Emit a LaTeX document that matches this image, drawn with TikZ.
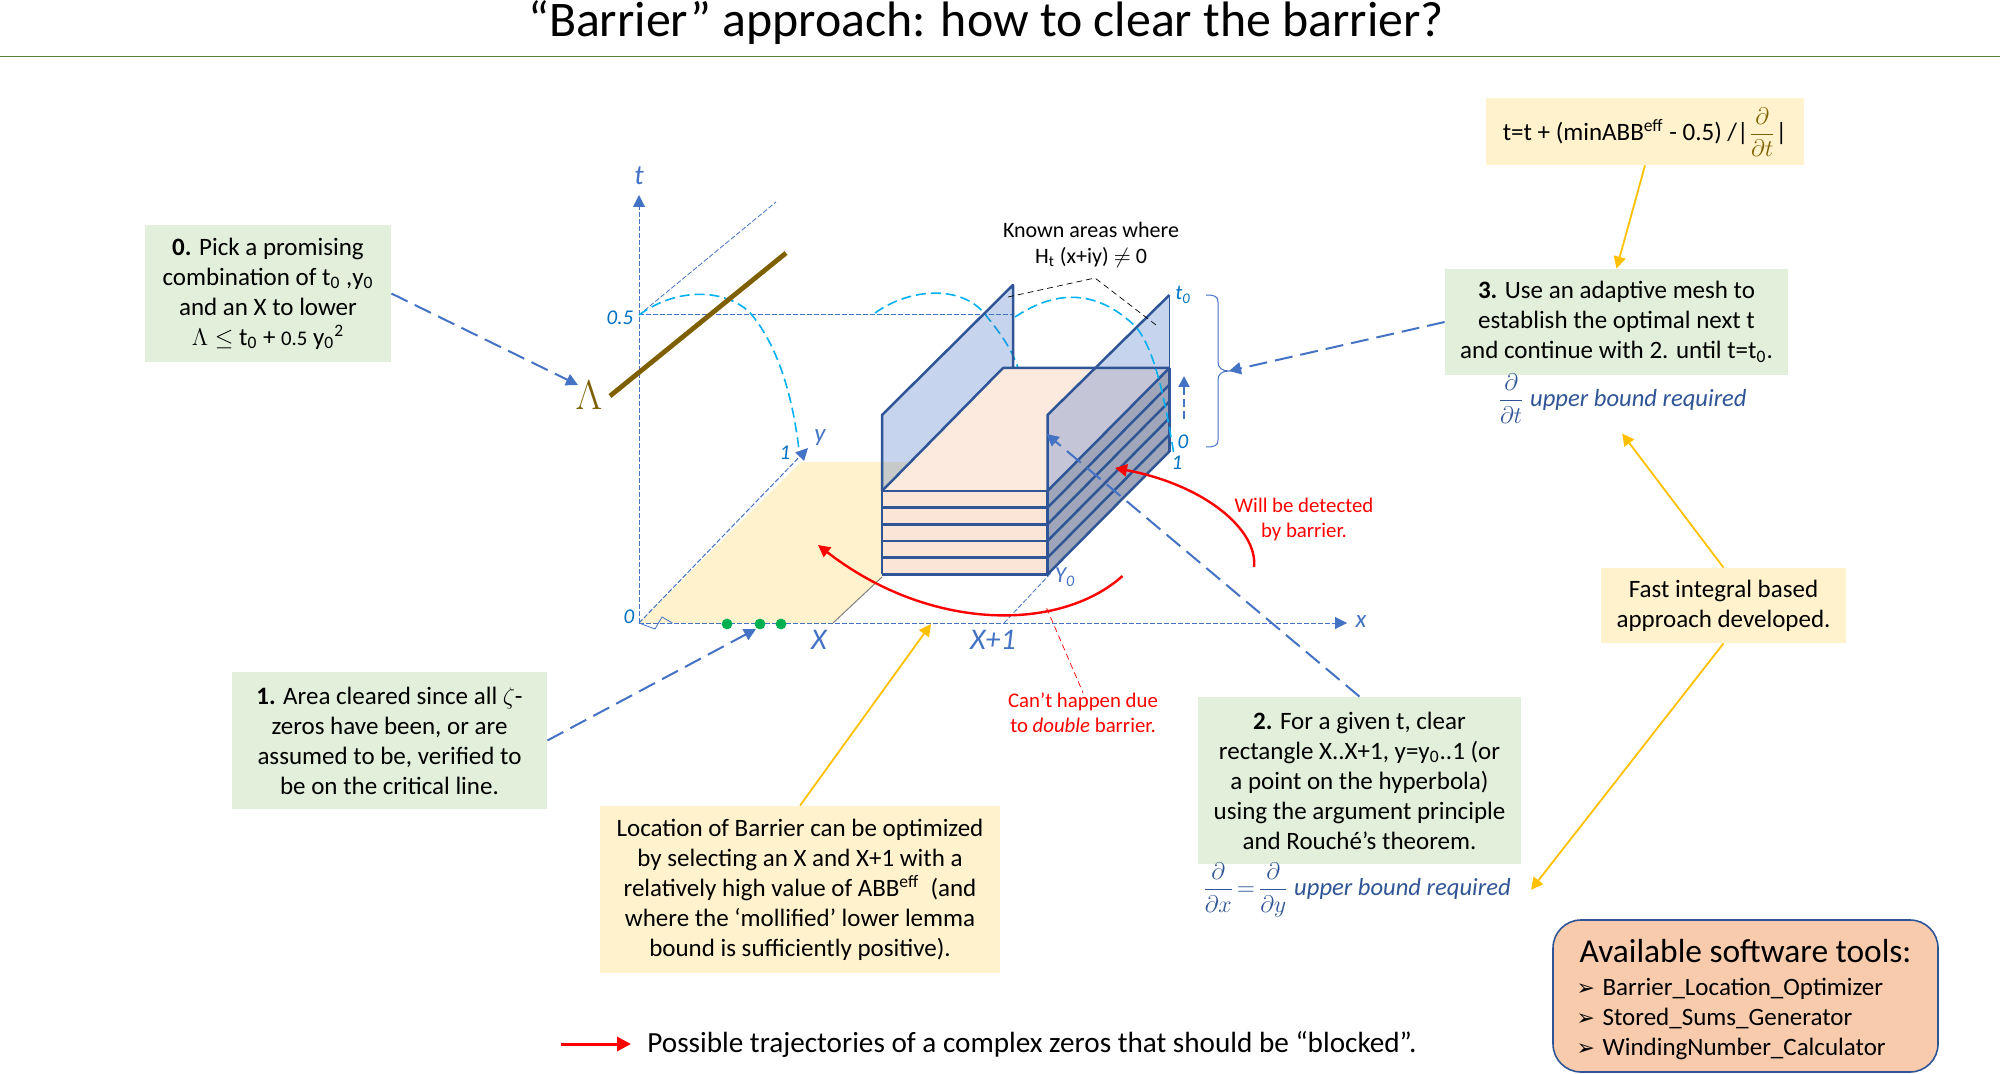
\documentclass[tikz,border=0pt]{standalone}
\usepackage{fontspec}
\setmainfont{Carlito}
\newfontfamily\dejavu{DejaVu Sans}
\usetikzlibrary{arrows.meta,positioning}
\definecolor{boxgreen}{HTML}{E2EFDA}
\definecolor{boxyellow}{HTML}{FFF2CC}
\definecolor{boxpeach}{HTML}{F8CBAD}
\definecolor{facepeach}{HTML}{FBE5D6}
\definecolor{sidegray}{HTML}{A0A6BA}
\definecolor{darkblue}{HTML}{2F5597}
\definecolor{midblue}{HTML}{4472C4}
\definecolor{numblue}{HTML}{0070C0}
\definecolor{cyanline}{HTML}{00B0F0}
\definecolor{gold}{HTML}{FFC000}
\definecolor{brownline}{HTML}{7F6000}
\definecolor{titlegreen}{HTML}{548235}
\definecolor{dotgreen}{HTML}{00B050}
\newcommand{\bodyfont}{\fontsize{12.5}{15}\selectfont}
\newcommand{\smallfont}{\fontsize{10.4}{12.5}\selectfont}
\newcommand{\toolmark}{\hspace*{-1.5pt}\makebox[13pt][l]{\dejavu\fontsize{11}{15}\selectfont ➢}}
\tikzstyle{greenbox} = [fill=boxgreen, align=center, inner sep=0pt, font=\bodyfont]
\tikzstyle{yellowbox} = [fill=boxyellow, align=center, inner sep=0pt, font=\bodyfont]
\tikzstyle{axislabel} = [text=numblue, inner sep=0pt, font=\fontsize{10.5}{12}\itshape]
\tikzstyle{biglabel} = [text=midblue, inner sep=0pt, font=\fontsize{15}{18}\itshape]
\tikzstyle{redtext} = [text=red, align=center, inner sep=0pt, font=\smallfont]
\tikzstyle{boundtext} = [text=darkblue, inner sep=5pt, font=\fontsize{12.3}{14}\itshape]
\tikzstyle{axisline} = [midblue, dash pattern=on 2.5pt off 1pt, line width=0.5pt]
\tikzstyle{axisarrow} = [axisline, -{Triangle[length=6pt,width=6pt]}]
\tikzstyle{callout} = [midblue, line width=1pt, dash pattern=on 9pt off 4pt, -{Triangle[length=6pt,width=6pt]}]
\tikzstyle{goldarrow} = [gold, line width=0.9pt, -{Triangle[length=6pt,width=6pt]}]
\tikzstyle{redarrow} = [red, line width=1.2pt, -{Triangle[length=6pt,width=6pt]}]
\tikzstyle{cyandash} = [cyanline, line width=0.8pt, dash pattern=on 5pt off 2.5pt]
\tikzstyle{edgeline} = [darkblue, line width=1.25pt, line join=round]
\tikzstyle{panel} = [midblue, fill opacity=0.3]
\begin{document}
\begin{tikzpicture}[x=0.5pt,y=-0.5pt]
\useasboundingbox (0,0) rectangle (2000,1074);
\node [anchor=base, inner sep=0pt] (title) at (986,37) {\fontsize{24.9}{28}\selectfont “Barrier” approach: how to clear the barrier?};
\coordinate (ruleleft) at (0,56.5);
\coordinate (ruleright) at (2000,56.5);
\draw [titlegreen, line width=0.6pt] (ruleleft) -- (ruleright);

\coordinate (origin) at (639,623);
\coordinate (ttop) at (639,195);
\coordinate (xtip) at (1347,623);
\coordinate (ytip) at (808,448);
\coordinate (half) at (639,315);
\coordinate (halfend) at (1013,315);
\coordinate (halfup) at (776,202);
\coordinate (xbase) at (833,623);
\coordinate (xtop) at (882,577);
\coordinate (xonebase) at (1004,623);
\coordinate (xonetop) at (1051,573);

\coordinate (fl) at (882,491);
\coordinate (fr) at (1047.5,491);
\coordinate (bl) at (1003,368);
\coordinate (br) at (1169.4,368);
\coordinate (flup) at (882,415);
\coordinate (frup) at (1047.5,415);
\coordinate (blup) at (1013,285);
\coordinate (blfoot) at (1013,368);
\coordinate (brup) at (1169.4,295);

\fill [boxyellow] (origin) -- (801,462) -- (908,462) -- (fl) -- (xtop) -- (xbase) -- cycle;
\draw [axisarrow] (origin) -- (ttop);
\draw [axisarrow] (origin) -- (xtip);
\draw [axisarrow] (origin) -- (ytip);
\draw [axisline] (half) -- (halfend);
\draw [axisline, line width=0.4pt] (half) -- (halfup);
\draw [gray, line width=0.5pt] (xbase) -- (xtop);
\draw [axisline, line width=0.4pt] (xonebase) -- (xonetop);
\draw [midblue, line width=0.4pt] (origin) -- (655,629) -- (662,617) -- (672.5,623);

\draw [cyandash] (half) .. controls (680,285) and (730,290) .. (752,315) .. controls (780,350) and (793,400) .. (799,450);
\draw [brownline, line width=2.4pt] (610,396) -- (786,253);
\node [text=brownline, inner sep=0pt, font=\fontsize{20}{24}\selectfont] (lambda) at (589,395) {$\Lambda$};

\draw [cyandash] (875,313) .. controls (910,288) and (960,285) .. (984,313) .. controls (1002,335) and (1012,350) .. (1018,368);

\fill [panel] (flup) -- (blup) -- (blfoot) -- (bl) -- (fl) -- cycle;
\fill [facepeach!80!white] (fl) -- (fr) -- (br) -- (bl) -- cycle;
\fill [facepeach] (882,491) rectangle (1047.5,574);
\fill [sidegray] (fr) -- (br) -- (1169.4,452) -- (1047.5,574) -- cycle;
\fill [panel] (frup) -- (brup) -- (br) -- (fr) -- cycle;
\draw [edgeline] (fl) -- (flup) -- (blup) -- (blfoot);
\draw [edgeline] (fr) -- (frup) -- (brup);
\draw [darkblue, line width=0.5pt] (brup) -- (br);
\draw [edgeline] (fl) -- (bl) -- (br);
\draw [edgeline] (fr) -- (1047.5,574);
\draw [edgeline] (br) -- (1169.4,452);
\foreach \k in {0,1,...,5} {
	\draw [edgeline] (882,491+16.67*\k) -- (1047.5,491+16.67*\k);
	\draw [edgeline] (1047.5,491+16.67*\k) -- (1169.4,368+16.67*\k);
}
\draw [edgeline] (882,491) -- (882,574);

\draw [cyandash] (1015,317) .. controls (1060,287) and (1100,292) .. (1136,327) .. controls (1155,350) and (1165,400) .. (1174,455);

\foreach \px in {727,760,781} {
	\fill [dotgreen] (\px,624) circle (2.7pt);
}

\node [biglabel, font=\fontsize{14}{16}\itshape] (tname) at (639,176) {t};
\node [biglabel, font=\fontsize{12.5}{15}\itshape] (xname) at (1361,622) {x};
\node [biglabel, font=\fontsize{12.5}{15}\itshape] (yname) at (820,438) {y};
\node [axislabel] (zerolabel) at (629,617) {0};
\node [axislabel] (halflabel) at (620,318) {0.5};
\node [axislabel] (onelabel) at (785,453) {1};
\node [axislabel] (tzero) at (1183,295) {t\textsubscript{0}};
\node [axislabel] (topzero) at (1183,442) {0};
\node [axislabel] (topone) at (1177,463) {1};
\node [axislabel, text=midblue, font=\fontsize{11.5}{13}\itshape] (yzero) at (1065,577) {Y\textsubscript{0}};
\node [biglabel] (xlabel) at (819,640) {X};
\node [biglabel] (xonelabel) at (993,640) {X+1};

\coordinate (liftbase) at (1184,419);
\coordinate (lifttip) at (1184,376);
\draw [midblue, line width=1pt, dash pattern=on 4pt off 2pt, -{Triangle[length=5.5pt,width=5.5pt]}] (liftbase) -- (lifttip);
\coordinate (bracetip) at (1229,371);
\draw [midblue, line width=0.5pt] (1206,295) .. controls (1214,295) and (1218,296) .. (1218,302) -- (1218,362) .. controls (1218,368) and (1222,371) .. (bracetip) .. controls (1222,371) and (1218,374) .. (1218,380) -- (1218,440) .. controls (1218,446) and (1214,447) .. (1206,447);

\node [align=center, inner sep=0pt, font=\fontsize{11}{13}\selectfont] (known) at (1091,245) {Known areas where\\H\textsubscript{t} (x+iy) $\neq$ 0};
\coordinate (apex) at (1095,278);
\coordinate (knownleft) at (1008,297);
\coordinate (knownright) at (1156,325);
\draw [black, densely dashed, line width=0.35pt] (knownleft) -- (apex) -- (knownright);

\node [greenbox, minimum width=123pt, minimum height=68.5pt] (stepzero) at (268,293.5) {\textbf{0.} Pick a promising\\combination of t\textsubscript{0} ,y\textsubscript{0}\\and an X to lower\\$\Lambda\leq$ t\textsubscript{0} + {\smallfont 0.5} y\textsubscript{0}\textsuperscript{2}};
\node [greenbox, minimum width=157.5pt, minimum height=68.5pt] (stepone) at (389.5,740.5) {\textbf{1.} Area cleared since all $\zeta$-\\zeros have been, or are\\assumed to be, verified to\\be on the critical line.};
\node [greenbox, minimum width=161.5pt, minimum height=83.5pt] (steptwo) at (1359.5,780.5) {\textbf{2.} For a given t, clear\\rectangle X..X+1, y=y\textsubscript{0}..1 (or\\a point on the hyperbola)\\using the argument principle\\and Rouché's theorem.};
\node [greenbox, minimum width=171.5pt, minimum height=53pt] (stepthree) at (1616.5,322) {\textbf{3.} Use an adaptive mesh to\\establish the optimal next t\\and continue with 2. until t=t\textsubscript{0}.};
\node [yellowbox, minimum width=159pt, minimum height=33.5pt] (formula) at (1645,131.5) {\rule{0pt}{17pt}t=t + (minABB\textsuperscript{eff} - 0.5) /|{\color{brownline}$\displaystyle\frac{\partial}{\partial t}$}|};
\node [yellowbox, minimum width=122.5pt, minimum height=37.5pt] (fastbox) at (1723.5,605.5) {Fast integral based\\approach developed.};
\node [yellowbox, minimum width=200pt, minimum height=83.5pt] (barrierbox) at (800,889.5) {Location of Barrier can be optimized\\by selecting an X and X+1 with a\\relatively high value of ABB\textsuperscript{eff}~ (and\\where the ‘mollified’ lower lemma\\bound is sufficiently positive).};
\node [boundtext, below=-6pt of stepthree, xshift=2.8pt] (tbound) {$\displaystyle\frac{\partial}{\partial t}$ upper bound required};
\node [boundtext, inner sep=10pt, below=-11pt of steptwo, xshift=-1.5pt] (xybound) {$\displaystyle\frac{\partial}{\partial x}\!=\!\frac{\partial}{\partial y}$ upper bound required};

\coordinate (lambdatip) at (578,385);
\coordinate (dotstip) at (756,629);
\coordinate (boxtip) at (1046.6,434);
\coordinate (axistip) at (931,624);
\draw [callout] (stepzero.east) -- (lambdatip);
\draw [callout] (stepone.east) -- (dotstip);
\draw [callout] (steptwo.north) -- (boxtip);
\draw [callout] (stepthree.west) -- (bracetip);
\draw [goldarrow] (barrierbox.north) -- (axistip);
\draw [goldarrow] (formula.south) -- (stepthree.north);
\draw [goldarrow] (fastbox.north) -- (tbound.south);
\draw [goldarrow] (fastbox.south) -- (xybound.east);

\coordinate (bigstart) at (1122.5,576);
\coordinate (bigtip) at (818,545);
\coordinate (sidestart) at (1254,567);
\coordinate (sidetip) at (1115,468);
\draw [redarrow] (bigstart) .. controls (1060,632) and (930,632) .. (bigtip);
\draw [redarrow] (sidestart) .. controls (1258,530) and (1205,485) .. (sidetip);
\node [redtext] (detected) at (1304,519) {Will be detected\\by barrier.};
\node [redtext] (cannot) at (1083,713) {Can’t happen due\\to \textit{double} barrier.};
\coordinate (cannottop) at (1046.6,608);
\draw [red, densely dashed, line width=0.35pt] (cannottop) -- (cannot.north);

\node [inner sep=8pt, anchor=west, font=\fontsize{14.6}{17}\selectfont] (legend) at (631,1044) {Possible trajectories of a complex zeros that should be “blocked”.};
\coordinate (legendstart) at (561,1044);
\draw [red, line width=1.5pt, -{Triangle[length=7pt,width=7pt]}] (legendstart) -- (legend.west);

\node [fill=boxpeach, draw=darkblue, line width=0.8pt, rounded corners=14pt, minimum width=192.5pt, minimum height=76pt, align=left, font=\bodyfont] (toolbox) at (1745.5,996) {\rule{0pt}{15pt}{\fontsize{16.7}{20}\selectfont Available software tools:}\\[1.5pt]\toolmark Barrier\_Location\_Optimizer\\\toolmark Stored\_Sums\_Generator\\\toolmark WindingNumber\_Calculator};
\end{tikzpicture}
\end{document}
